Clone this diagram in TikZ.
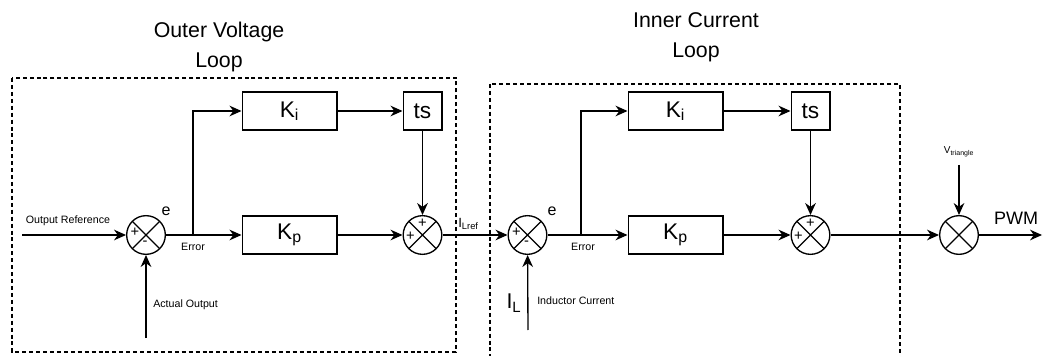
\documentclass[tikz,border=0pt]{standalone}
\usepackage{fontspec}
\setmainfont{Liberation Sans}
\usepackage{tikz}
\usetikzlibrary{arrows.meta,positioning,calc}

\begin{document}
\begin{tikzpicture}[
  x=0.75pt, y=-0.75pt,
  blk/.style={draw, line width=1pt, minimum height=28.5pt, inner sep=0pt,
              font=\fontsize{17}{18}\selectfont},
  sum/.style={draw, circle, line width=1pt, minimum size=29pt, inner sep=0pt,
              path picture={\draw[line width=0.9pt] (path picture bounding box.center)
                +(45:16pt) -- +(225:16pt) +(135:16pt) -- +(-45:16pt);}},
  sgn/.style={inner sep=0pt, font=\fontsize{11}{11}\selectfont},
  small/.style={inner sep=0pt, font=\fontsize{8}{9}\selectfont},
  elbl/.style={inner sep=0pt, font=\fontsize{12}{12}\selectfont},
  title/.style={align=center, inner sep=0pt, font=\fontsize{16}{22.5}\selectfont},
  loopbox/.style={line width=1pt, dash pattern=on 3pt off 2.2pt},
  arrow/.style={->, line width=1pt, >={Stealth[length=9pt,width=8pt]}},
]
\useasboundingbox (0,0) rectangle (1043,356);

\node[title] (outertitle) at (219,47) {Outer Voltage\\Loop};
\node[title] (innertitle) at (696,37) {Inner Current\\Loop};
\draw[loopbox] (12,78) rectangle (456,352);
\draw[loopbox] (490,84) rectangle (900,360);

\node[sum] (s1) at (146,235) {};
\node[blk, minimum width=71pt] (ki1) at (289.5,111) {K\textsubscript{i}};
\node[blk, minimum width=71pt] (kp1) at (289.5,235) {K\textsubscript{p}};
\node[blk, minimum width=29pt] (ts1) at (422.5,111) {ts};
\node[sum] (s2) at (422.5,235) {};

\node[sum] (s3) at (527.5,235) {};
\node[blk, minimum width=71pt] (ki2) at (675.5,111) {K\textsubscript{i}};
\node[blk, minimum width=71pt] (kp2) at (675.5,235) {K\textsubscript{p}};
\node[blk, minimum width=29pt] (ts2) at (810.5,111) {ts};
\node[sum] (s4) at (810.5,235) {};
\node[sum] (s5) at (959,235) {};

\path (s1) ++(-11,-3) node[sgn] (s1p) {+} (s1) ++(-1,8) node[sgn] (s1m) {-};
\path (s2) ++(-12,1) node[sgn] (s2p) {+} (s2) ++(0,-12) node[sgn] (s2t) {+};
\path (s3) ++(-11,-3) node[sgn] (s3p) {+} (s3) ++(-1,8) node[sgn] (s3m) {-};
\path (s4) ++(-12,1) node[sgn] (s4p) {+} (s4) ++(0,-12) node[sgn] (s4t) {+};

\coordinate (refin) at (22,235);
\coordinate (actin) at (146,338);
\coordinate (br1) at (193,235);
\coordinate (ilin) at (528,330);
\coordinate (br2) at (581,235);
\coordinate (vtri) at (959,165);
\coordinate (pwmout) at (1042,235);

\node[small, anchor=south] (reflbl) at (68,226) {Output Reference};
\node[elbl] (e1) at (166,211) {e};
\node[small] (err1) at (193,247) {Error};
\node[small, anchor=west] (actlbl) at (153,305) {Actual Output};
\node[inner sep=0pt, font=\fontsize{10}{10}\selectfont, anchor=south west] (ilref) at (458,230)
  {I\textsubscript{Lref}};
\node[elbl] (e2) at (552,211) {e};
\node[small] (err2) at (583,247) {Error};
\node[inner sep=0pt, font=\fontsize{16}{16}\selectfont] (illbl) at (514,303) {I\textsubscript{L}};
\node[small, anchor=west] (indlbl) at (537,301) {Inductor Current};
\node[inner sep=0pt, font=\fontsize{7.5}{8}\selectfont] (vlbl) at (959,152) {V\textsubscript{triangle}};
\node[inner sep=0pt, font=\fontsize{13.5}{14}\selectfont] (pwmlbl) at (1016,218) {PWM};

\draw[arrow] (refin) -- (s1);
\draw[arrow] (actin) -- (s1);
\draw[arrow] (s1) -- (kp1);
\draw[arrow] (br1) |- (ki1);
\draw[arrow] (ki1) -- (ts1);
\draw[arrow] (ts1) -- (s2);
\draw[arrow] (kp1) -- (s2);
\draw[arrow] (s2) -- (s3);
\draw[arrow] (ilin) -- (s3);
\draw[arrow] (s3) -- (kp2);
\draw[arrow] (br2) |- (ki2);
\draw[arrow] (ki2) -- (ts2);
\draw[arrow] (ts2) -- (s4);
\draw[arrow] (kp2) -- (s4);
\draw[arrow] (s4) -- (s5);
\draw[arrow] (vtri) -- (s5);
\draw[arrow] (s5) -- (pwmout);
\end{tikzpicture}
\end{document}
